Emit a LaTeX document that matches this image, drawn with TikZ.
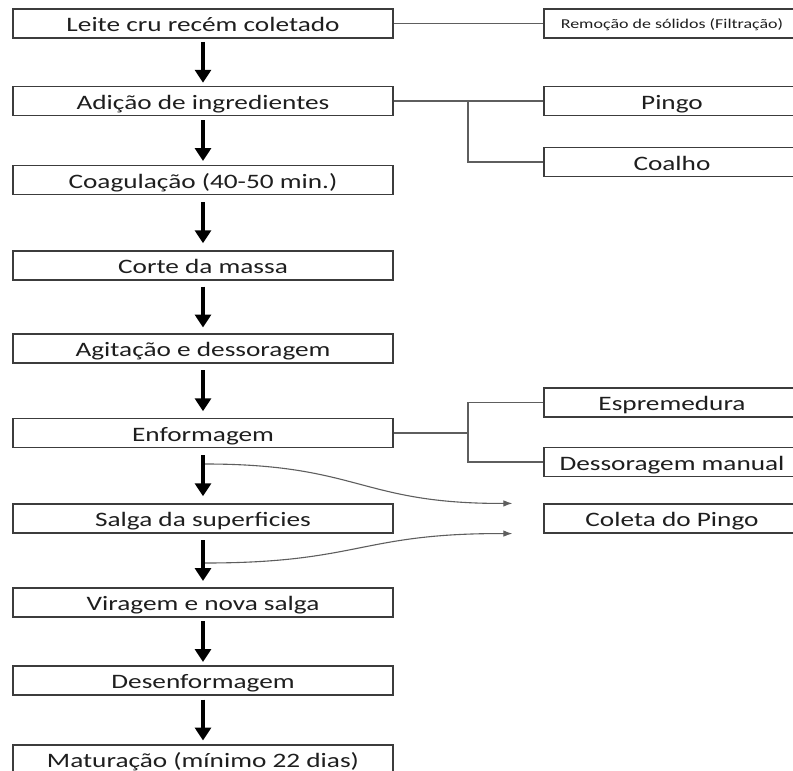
\documentclass[tikz,border=0pt]{standalone}
\usepackage{fontspec}
\setmainfont[FakeStretch=1.33]{Carlito}
\usetikzlibrary{arrows.meta,calc}
\definecolor{boxline}{HTML}{3C3C3C}
\definecolor{conline}{HTML}{5E5E5E}
\definecolor{txt}{HTML}{1E1E1E}
\tikzset{
  stepbox/.style={draw=boxline, line width=1.2pt, minimum width=380pt, minimum height=29pt,
    inner sep=0pt, text height=20pt, text depth=4pt, font=\fontsize{20.5}{24}\selectfont, text=txt},
  sidebox/.style={stepbox, minimum width=256pt},
  smallside/.style={sidebox, text height=12pt, text depth=2.5pt, font=\fontsize{13.5}{15}\selectfont},
  conn/.style={draw=conline, line width=1.2pt},
  bigarrow/.style={draw=black, line width=4.5pt, -{Triangle[width=16pt,length=13pt]}},
  curvearrow/.style={draw=conline, line width=1.1pt, -{Latex[length=9pt,width=6.5pt]}}
}
\begin{document}
\begin{tikzpicture}[x=1pt,y=-1pt]
\useasboundingbox (0,0) rectangle (793,771);
\clip (0,0) rectangle (793,771);
\fill[white] (0,0) rectangle (793,771);
% main column
\node[stepbox] (leite)  at (203,23.5)  {Leite cru recém coletado};
\node[stepbox] (adicao) at (203,101)   {Adição de ingredientes};
\node[stepbox] (coag)   at (203,180)   {Coagulação (40-50 min.)};
\node[stepbox] (corte)  at (203,265.5) {Corte da massa};
\node[stepbox] (agit)   at (203,348.5) {Agitação e dessoragem};
\node[stepbox] (enform) at (203,433)   {Enformagem};
\node[stepbox] (salga)  at (203,518.5) {Salga da superficies};
\node[stepbox] (virag)  at (203,602.5) {Viragem e nova salga};
\node[stepbox] (desenf) at (203,680.5) {Desenformagem};
\node[stepbox] (matur)  at (203,759.5) {Maturação (mínimo 22 dias)};
% side boxes
\node[smallside] (remocao) at (672,23.5)  {Remoção de sólidos (Filtração)};
\node[sidebox]   (pingo)   at (672,101)   {Pingo};
\node[sidebox]   (coalho)  at (672,162)   {Coalho};
\node[sidebox]   (esprem)  at (672,402.5) {Espremedura};
\node[sidebox]   (dessor)  at (672,462)   {Dessoragem manual};
\node[sidebox]   (coleta)  at (672,518.5) {Coleta do Pingo};
% main arrows
\foreach \a/\b in {leite/adicao, adicao/coag, coag/corte, corte/agit, agit/enform,
                   enform/salga, salga/virag, virag/desenf, desenf/matur}{
  \draw[bigarrow] ($(\a.south)!0.5!(\b.north)+(0,-20.5)$) -- ($(\a.south)!0.5!(\b.north)+(0,20.5)$);
}
% side connectors
\draw[conn] (leite.east) -- (remocao.west);
\coordinate (b1) at (468,101);
\draw[conn] (adicao.east) -- (pingo.west);
\draw[conn] (b1) |- (coalho.west);
\coordinate (b2) at (468,433);
\draw[conn] (enform.east) -- (b2);
\draw[conn] (esprem.west) -| (b2) |- (dessor.west);
% curved connectors to Coleta do Pingo
\coordinate (c1s) at (205,464);
\coordinate (c2s) at (205,563);
\coordinate (c1e) at ($(coleta.north west)+(-31,0)$);
\coordinate (c2e) at ($(coleta.south west)+(-31,0)$);
\draw[curvearrow] (c1s) .. controls (360,464) and (360,504) .. (c1e);
\draw[curvearrow] (c2s) .. controls (360,563) and (360,533) .. (c2e);
\end{tikzpicture}
\end{document}
